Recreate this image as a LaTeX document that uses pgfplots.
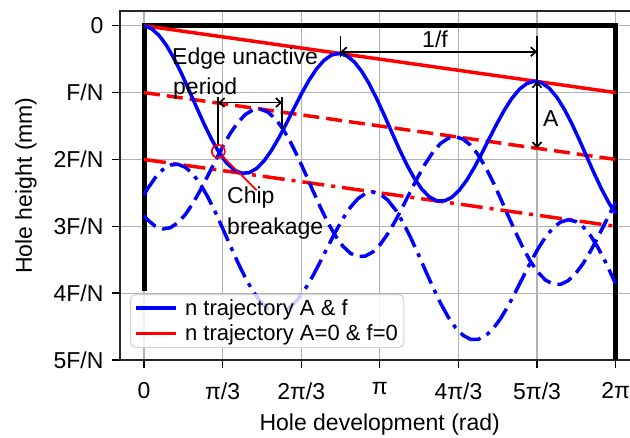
\documentclass[border=0pt]{standalone}
\usepackage{fontspec}
\setmainfont{Liberation Sans}
\usepackage{pgfplots}
\pgfplotsset{compat=1.18}
\usetikzlibrary{arrows.meta}
\newcommand\fs{\fontsize{23}{28}\selectfont}
\begin{document}
\begin{tikzpicture}
\begin{axis}[
  width=519.4pt, height=349pt, scale only axis,
  xmin=-0.32, xmax=6.6, ymin=-0.22, ymax=5, y dir=reverse,
  xtick={0,1.0472,2.0944,3.1416,4.1888,5.2360,6.2832},
  xticklabels={0,π/3,2π/3,π,4π/3,5π/3,2π},
  ytick={0,1,2,3,4,5},
  yticklabels={0,F/N,2F/N,3F/N,4F/N,5F/N},
  xtick pos=left, xticklabel pos=left, ytick pos=left,
  tick align=outside, major tick length=8pt,
  tick style={black, line width=1.3pt},
  grid=major, grid style={gray!60, line width=1.2pt},
  axis line style={black!85, line width=1.5pt},
  ticklabel style={font=\fs},
  xticklabel style={yshift=-11pt},
  yticklabel style={xshift=-5pt},
  label style={font=\fs},
  xlabel style={inner sep=0pt, yshift=-10.5pt},
  ylabel style={yshift=10pt},
  xlabel={Hole development (rad)}, ylabel={Hole height (mm)},
  legend style={at={(axis cs:-0.187,4.82)}, anchor=south west, font=\fontsize{22}{26}\selectfont,
    draw=gray!35, line width=1.2pt, rounded corners=5pt, fill=white, fill opacity=0.8, text opacity=1,
    inner xsep=4pt, inner ysep=3pt, row sep=4pt, column sep=5pt, cells={anchor=west}},
  legend image code/.code={\draw[#1] (0pt,0pt) -- (40pt,0pt);},
]
\addlegendimage{blue, line width=3.5pt}
\addlegendentry{n trajectory A \& f}
\addlegendimage{red, line width=3.5pt}
\addlegendentry{n trajectory A=0 \& f=0}

% thick black frame lines
\addplot[forget plot, black, line width=5pt, line join=miter] coordinates {(0,3.97) (0,0) (6.2832,0) (6.2832,5)};

% red envelope lines
\addplot[forget plot, red, line width=3.5pt] coordinates {(0,0) (6.2832,1)};
\addplot[forget plot, red, line width=3.5pt, dash pattern=on 16pt off 7pt] coordinates {(0,1) (6.2832,2)};
\addplot[forget plot, red, line width=3.5pt, dash pattern=on 22pt off 7pt on 4pt off 7pt] coordinates {(0,2) (6.2832,3)};

% blue solid
\addplot[forget plot, blue, line width=3.5pt] coordinates {
(0,0) (0.1,0.0446) (0.2,0.1448) (0.3,0.2959) (0.4,0.4902) (0.5,0.7172) (0.6,0.9651) (0.7,1.2204) (0.8,1.4695) (0.9,1.6989)
(1.0,1.8966) (1.1,2.0519) (1.2,2.1570) (1.3,2.2067) (1.4,2.1990) (1.5,2.1355) (1.6,2.0205) (1.7,1.8617) (1.8,1.6689) (1.9,1.4542)
(2.0,1.2308) (2.1,1.0124) (2.2,0.8125) (2.3,0.6434) (2.4,0.5158) (2.5,0.4377) (2.6,0.4147) (2.7,0.4490) (2.8,0.5395) (2.9,0.6819)
(3.0,0.8691) (3.1,1.0911) (3.2,1.3362) (3.3,1.5912) (3.4,1.8424) (3.5,2.0763) (3.6,2.2804) (3.7,2.4441) (3.8,2.5587) (3.9,2.6186)
(4.0,2.6213) (4.1,2.5675) (4.2,2.4613) (4.3,2.3097) (4.4,2.1222) (4.5,1.9105) (4.6,1.6877) (4.7,1.4674) (4.8,1.2632) (4.9,1.0877)
(5.0,0.9520) (5.1,0.8645) (5.2,0.8313) (5.3,0.8553) (5.4,0.9359) (5.5,1.0694) (5.6,1.2492) (5.7,1.4658) (5.8,1.7076) (5.9,1.9618)
(6.0,2.2147) (6.1,2.4527) (6.2,2.6632) (6.2832,2.8090)};

% blue dashed
\addplot[forget plot, blue, line width=3.5pt, dash pattern=on 16pt off 7pt] coordinates {
(0,2.837) (0.05,2.9048) (0.15,3.0001) (0.25,3.0396) (0.35,3.0217) (0.45,2.9485) (0.55,2.8250) (0.65,2.6592) (0.75,2.4616) (0.85,2.2443)
(0.95,2.0208) (1.05,1.8048) (1.15,1.6096) (1.25,1.4472) (1.35,1.3279) (1.45,1.2595) (1.55,1.2467) (1.65,1.2913) (1.75,1.3916) (1.85,1.5427)
(1.95,1.7369) (2.05,1.9639) (2.15,2.2118) (2.25,2.4671) (2.35,2.7162) (2.45,2.9457) (2.55,3.1433) (2.65,3.2986) (2.75,3.4037) (2.85,3.4534)
(2.95,3.4457) (3.05,3.3823) (3.15,3.2673) (3.25,3.1084) (3.35,2.9156) (3.45,2.7009) (3.55,2.4775) (3.65,2.2591) (3.75,2.0593) (3.85,1.8902)
(3.95,1.7625) (4.05,1.6844) (4.15,1.6614) (4.25,1.6957) (4.35,1.7862) (4.45,1.9287) (4.55,2.1158) (4.65,2.3378) (4.75,2.5829) (4.85,2.8379)
(4.95,3.0891) (5.05,3.3231) (5.15,3.5272) (5.25,3.6908) (5.35,3.8054) (5.45,3.8653) (5.55,3.8680) (5.65,3.8143) (5.75,3.7081) (5.85,3.5565)
(5.95,3.3689) (6.05,3.1572) (6.15,2.9344) (6.25,2.7142) (6.2832,2.644)};

% blue dash-dot
\addplot[forget plot, blue, line width=3.5pt, dash pattern=on 22pt off 7pt on 4pt off 7pt] coordinates {
(0,2.5287) (0.05,2.4345) (0.15,2.2721) (0.25,2.1528) (0.35,2.0844) (0.45,2.0717) (0.55,2.1163) (0.65,2.2165) (0.75,2.3676) (0.85,2.5618)
(0.95,2.7888) (1.05,3.0368) (1.15,3.2921) (1.25,3.5412) (1.35,3.7706) (1.45,3.9682) (1.55,4.1235) (1.65,4.2286) (1.75,4.2784) (1.85,4.2707)
(1.95,4.2072) (2.05,4.0922) (2.15,3.9333) (2.25,3.7405) (2.35,3.5258) (2.45,3.3025) (2.55,3.0841) (2.65,2.8842) (2.75,2.7151) (2.85,2.5874)
(2.95,2.5093) (3.05,2.4864) (3.15,2.5207) (3.25,2.6112) (3.35,2.7536) (3.45,2.9407) (3.55,3.1627) (3.65,3.4078) (3.75,3.6629) (3.85,3.9141)
(3.95,4.1480) (4.05,4.3521) (4.15,4.5157) (4.25,4.6303) (4.35,4.6902) (4.45,4.6930) (4.55,4.6392) (4.65,4.5330) (4.75,4.3814) (4.85,4.1938)
(4.95,3.9821) (5.05,3.7594) (5.15,3.5391) (5.25,3.3349) (5.35,3.1594) (5.45,3.0236) (5.55,2.9361) (5.65,2.9030) (5.75,2.9270) (5.85,3.0076)
(5.95,3.1411) (6.05,3.3208) (6.15,3.5374) (6.25,3.7793) (6.2832,3.863)};

% chip breakage circle
\addplot[forget plot, only marks, mark=o, mark size=6.5pt, mark options={red, line width=1.7pt}] coordinates {(0.99,1.88)};

% annotations
\begin{scope}[line width=1.7pt, >={Straight Barb[length=5pt,width=9pt]}]
\draw (axis cs:0.99,1.07) -- (axis cs:0.99,1.78);
\draw[<->] (axis cs:0.99,1.15) -- (axis cs:1.84,1.15);
\draw (axis cs:1.84,1.07) -- (axis cs:1.84,1.55);
\draw[red] (axis cs:1.06,1.97) -- (axis cs:1.5,2.46);
\draw (axis cs:2.618,0.154) -- (axis cs:2.618,0.469);
\draw[<->] (axis cs:2.618,0.389) -- (axis cs:5.236,0.389);
\draw (axis cs:5.236,0.154) -- (axis cs:5.236,0.833);
\draw[<->] (axis cs:5.236,0.833) -- (axis cs:5.236,1.833);
\end{scope}
\node[anchor=base west, inner sep=0pt, font=\fs] at (axis cs:0.373,0.573) {Edge unactive};
\node[anchor=base west, inner sep=0pt, font=\fs] at (axis cs:0.386,1.036) {period};
\node[anchor=base west, inner sep=0pt, font=\fs] at (axis cs:1.106,2.652) {Chip};
\node[anchor=base west, inner sep=0pt, font=\fs] at (axis cs:1.106,3.13) {breakage};
\node[anchor=base, inner sep=0pt, font=\fs] at (axis cs:3.877,0.32) {1/f};
\node[anchor=base west, inner sep=0pt, font=\fs] at (axis cs:5.316,1.51) {A};

\coordinate (BL) at (axis cs:-0.32,5);
\end{axis}
\pgfresetboundingbox
\path[use as bounding box] ([shift={(-120pt,-77pt)}]BL) rectangle ([shift={(510pt,360pt)}]BL);
\end{tikzpicture}
\end{document}
